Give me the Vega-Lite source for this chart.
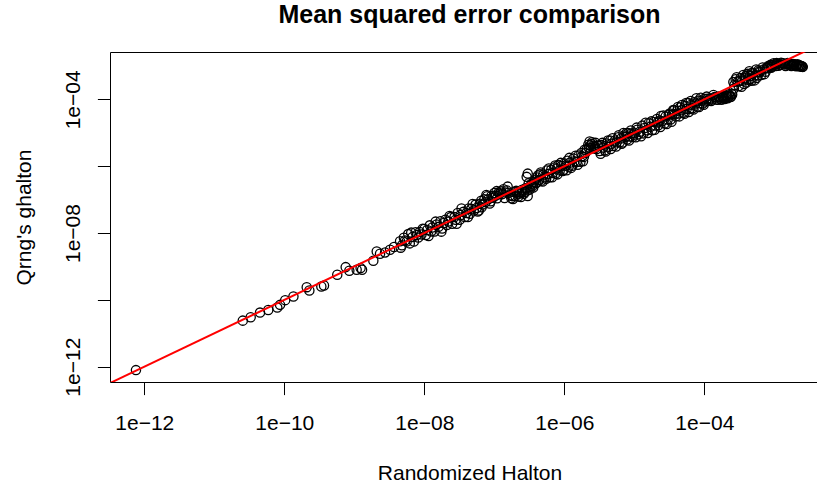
{
 "$schema": "https://vega.github.io/schema/vega-lite/v6.json",
 "width": 707,
 "height": 330,
 "autosize": {"type": "none"},
 "padding": {"left": 110, "top": 52, "right": 0, "bottom": 102},
 "background": "white",
 "config": {"view": {"stroke": null}, "axis": {"grid": false}, "font": "Liberation Sans"},
 "title": {"text": "Mean squared error comparison", "font": "Liberation Sans", "fontSize": 25, "fontWeight": "bold", "color": "black", "anchor": "middle", "frame": "group", "baseline": "alphabetic", "offset": 4, "dx": 6},
 "layer": [
  {
   "data": {"values": [
    {"halton":7.6e-13,"ghalton":7.9e-13},
    {"halton":2.55e-11,"ghalton":2.39e-11},
    {"halton":3.31e-11,"ghalton":3.03e-11},
    {"halton":4.5e-11,"ghalton":4.16e-11},
    {"halton":5.9e-11,"ghalton":5.0e-11},
    {"halton":7.94e-11,"ghalton":5.87e-11},
    {"halton":8.69e-11,"ghalton":7.08e-11},
    {"halton":1.03e-10,"ghalton":9.8e-11},
    {"halton":1.35e-10,"ghalton":1.26e-10},
    {"halton":2.09e-10,"ghalton":2.4e-10},
    {"halton":2.28e-10,"ghalton":1.9e-10},
    {"halton":3.38e-10,"ghalton":2.51e-10},
    {"halton":3.69e-10,"ghalton":2.69e-10},
    {"halton":5.71e-10,"ghalton":5.62e-10},
    {"halton":7.53e-10,"ghalton":9.55e-10},
    {"halton":8.49e-10,"ghalton":7.41e-10},
    {"halton":1.08e-9,"ghalton":7.94e-10},
    {"halton":1.23e-9,"ghalton":8.91e-10},
    {"halton":1.29e-9,"ghalton":7.94e-10},
    {"halton":1.87e-9,"ghalton":1.48e-9},
    {"halton":2.09e-9,"ghalton":2.82e-9},
    {"halton":2.33e-9,"ghalton":2.4e-9},
    {"halton":2.75e-9,"ghalton":2.63e-9},
    {"halton":3.24e-9,"ghalton":3.16e-9},
    {"halton":3.69e-9,"ghalton":3.8e-9},
    {"halton":4.5e-9,"ghalton":5.7e-9},
    {"halton":4.6e-9,"ghalton":3.65e-9},
    {"halton":4.8e-9,"ghalton":4.3e-9},
    {"halton":5.1e-9,"ghalton":7.2e-9},
    {"halton":5.3e-9,"ghalton":5.95e-9},
    {"halton":5.6e-9,"ghalton":5.6e-9},
    {"halton":5.9e-9,"ghalton":9.3e-9},
    {"halton":6.2e-9,"ghalton":4.9e-9},
    {"halton":6.5e-9,"ghalton":1.03e-8},
    {"halton":6.8e-9,"ghalton":7.6e-9},
    {"halton":7.1e-9,"ghalton":5.6e-9},
    {"halton":7.5e-9,"ghalton":1.06e-8},
    {"halton":7.8e-9,"ghalton":8.75e-9},
    {"halton":8.2e-9,"ghalton":7.3e-9},
    {"halton":8.6e-9,"ghalton":1.08e-8},
    {"halton":9.1e-9,"ghalton":9.1e-9},
    {"halton":9.5e-9,"ghalton":1.34e-8},
    {"halton":1.0e-8,"ghalton":1.32e-8},
    {"halton":1.05e-8,"ghalton":8.7e-9},
    {"halton":1.1e-8,"ghalton":1.23e-8},
    {"halton":1.15e-8,"ghalton":8.2e-9},
    {"halton":1.2e-8,"ghalton":1.7e-8},
    {"halton":1.25e-8,"ghalton":1.11e-8},
    {"halton":1.3e-8,"ghalton":1.46e-8},
    {"halton":1.4e-8,"ghalton":1.11e-8},
    {"halton":1.45e-8,"ghalton":2.2e-8},
    {"halton":1.5e-8,"ghalton":1.8e-8},
    {"halton":1.6e-8,"ghalton":1.53e-8},
    {"halton":1.7e-8,"ghalton":2.24e-8},
    {"halton":1.75e-8,"ghalton":1.1e-8},
    {"halton":1.8e-8,"ghalton":1.36e-8},
    {"halton":1.9e-8,"ghalton":2.0e-8},
    {"halton":2.0e-8,"ghalton":2.5e-8},
    {"halton":2.1e-8,"ghalton":1.75e-8},
    {"halton":2.2e-8,"ghalton":2.2e-8},
    {"halton":2.3e-8,"ghalton":3.25e-8},
    {"halton":2.4e-8,"ghalton":3.0e-8},
    {"halton":2.5e-8,"ghalton":1.9e-8},
    {"halton":2.7e-8,"ghalton":3.0e-8},
    {"halton":2.8e-8,"ghalton":2.5e-8},
    {"halton":2.9e-8,"ghalton":1.9e-8},
    {"halton":3.0e-8,"ghalton":4.0e-8},
    {"halton":3.2e-8,"ghalton":2.5e-8},
    {"halton":3.3e-8,"ghalton":3.45e-8},
    {"halton":3.4e-8,"ghalton":5.4e-8},
    {"halton":3.6e-8,"ghalton":4.3e-8},
    {"halton":3.8e-8,"ghalton":3.0e-8},
    {"halton":4.0e-8,"ghalton":4.0e-8},
    {"halton":4.2e-8,"ghalton":3.0e-8},
    {"halton":4.3e-8,"ghalton":5.4e-8},
    {"halton":4.5e-8,"ghalton":3.75e-8},
    {"halton":4.7e-8,"ghalton":5.3e-8},
    {"halton":4.9e-8,"ghalton":7.4e-8},
    {"halton":5.1e-8,"ghalton":4.75e-8},
    {"halton":5.4e-8,"ghalton":7.1e-8},
    {"halton":5.6e-8,"ghalton":5.6e-8},
    {"halton":5.8e-8,"ghalton":4.4e-8},
    {"halton":6.0e-8,"ghalton":4.75e-8},
    {"halton":6.2e-8,"ghalton":7.5e-8},
    {"halton":6.5e-8,"ghalton":9.2e-8},
    {"halton":6.6e-8,"ghalton":5.9e-8},
    {"halton":6.8e-8,"ghalton":7.1e-8},
    {"halton":7.2e-8,"ghalton":1.02e-7},
    {"halton":7.5e-8,"ghalton":8.4e-8},
    {"halton":7.7e-8,"ghalton":1.37e-7},
    {"halton":7.9e-8,"ghalton":1.26e-7},
    {"halton":8.2e-8,"ghalton":1.03e-7},
    {"halton":8.6e-8,"ghalton":7.7e-8},
    {"halton":8.9e-8,"ghalton":8.9e-8},
    {"halton":9.1e-8,"ghalton":1.28e-7},
    {"halton":9.5e-8,"ghalton":1.14e-7},
    {"halton":9.8e-8,"ghalton":1.29e-7},
    {"halton":1.0e-7,"ghalton":1.58e-7},
    {"halton":1.05e-7,"ghalton":1.32e-7},
    {"halton":1.08e-7,"ghalton":1.8e-7},
    {"halton":1.1e-7,"ghalton":1.1e-7},
    {"halton":1.15e-7,"ghalton":1.62e-7},
    {"halton":1.2e-7,"ghalton":1.51e-7},
    {"halton":1.25e-7,"ghalton":1.77e-7},
    {"halton":1.3e-7,"ghalton":1.46e-7},
    {"halton":1.35e-7,"ghalton":2.05e-7},
    {"halton":1.4e-7,"ghalton":1.11e-7},
    {"halton":1.45e-7,"ghalton":1.63e-7},
    {"halton":1.5e-7,"ghalton":1.89e-7},
    {"halton":1.55e-7,"ghalton":2.45e-7},
    {"halton":1.6e-7,"ghalton":1.6e-7},
    {"halton":1.7e-7,"ghalton":1.35e-7},
    {"halton":1.75e-7,"ghalton":1.1e-7},
    {"halton":1.8e-7,"ghalton":1.27e-7},
    {"halton":1.85e-7,"ghalton":1.04e-7},
    {"halton":1.9e-7,"ghalton":1.7e-7},
    {"halton":2.0e-7,"ghalton":1.26e-7},
    {"halton":2.05e-7,"ghalton":1.83e-7},
    {"halton":2.1e-7,"ghalton":1.66e-7},
    {"halton":2.2e-7,"ghalton":1.24e-7},
    {"halton":2.25e-7,"ghalton":1.5e-7},
    {"halton":2.3e-7,"ghalton":1.63e-7},
    {"halton":2.4e-7,"ghalton":1.2e-7},
    {"halton":2.45e-7,"ghalton":1.73e-7},
    {"halton":2.5e-7,"ghalton":1.98e-7},
    {"halton":2.65e-7,"ghalton":1.5e-7},
    {"halton":2.7e-7,"ghalton":1.7e-7},
    {"halton":2.8e-7,"ghalton":2.2e-7},
    {"halton":2.9e-7,"ghalton":4.8e-7},
    {"halton":2.9e-7,"ghalton":2.2e-7},
    {"halton":3.0e-7,"ghalton":6.0e-7},
    {"halton":3.0e-7,"ghalton":1.28e-7},
    {"halton":3.0e-7,"ghalton":1.9e-7},
    {"halton":3.1e-7,"ghalton":3.1e-7},
    {"halton":3.2e-7,"ghalton":2.0e-7},
    {"halton":3.3e-7,"ghalton":2.6e-7},
    {"halton":3.4e-7,"ghalton":3.0e-7},
    {"halton":3.5e-7,"ghalton":2.5e-7},
    {"halton":3.6e-7,"ghalton":2.3e-7},
    {"halton":3.7e-7,"ghalton":3.3e-7},
    {"halton":3.8e-7,"ghalton":3.8e-7},
    {"halton":3.9e-7,"ghalton":3.1e-7},
    {"halton":4.0e-7,"ghalton":3.2e-7},
    {"halton":4.1e-7,"ghalton":4.6e-7},
    {"halton":4.2e-7,"ghalton":5.3e-7},
    {"halton":4.3e-7,"ghalton":3.8e-7},
    {"halton":4.4e-7,"ghalton":3.9e-7},
    {"halton":4.5e-7,"ghalton":5.7e-7},
    {"halton":4.6e-7,"ghalton":6.5e-7},
    {"halton":4.7e-7,"ghalton":3.7e-7},
    {"halton":4.9e-7,"ghalton":3.5e-7},
    {"halton":5.0e-7,"ghalton":5.6e-7},
    {"halton":5.3e-7,"ghalton":4.7e-7},
    {"halton":5.5e-7,"ghalton":4.2e-7},
    {"halton":5.6e-7,"ghalton":7.4e-7},
    {"halton":5.9e-7,"ghalton":5.9e-7},
    {"halton":6.0e-7,"ghalton":8.5e-7},
    {"halton":6.2e-7,"ghalton":4.7e-7},
    {"halton":6.5e-7,"ghalton":7.8e-7},
    {"halton":6.7e-7,"ghalton":4.7e-7},
    {"halton":6.8e-7,"ghalton":6.3e-7},
    {"halton":7.2e-7,"ghalton":9.1e-7},
    {"halton":7.4e-7,"ghalton":1.05e-6},
    {"halton":7.5e-7,"ghalton":6.0e-7},
    {"halton":7.9e-7,"ghalton":8.5e-7},
    {"halton":8.0e-7,"ghalton":5.7e-7},
    {"halton":8.2e-7,"ghalton":1.08e-6},
    {"halton":8.6e-7,"ghalton":7.5e-7},
    {"halton":8.9e-7,"ghalton":1.26e-6},
    {"halton":9.1e-7,"ghalton":1.02e-6},
    {"halton":9.5e-7,"ghalton":7.2e-7},
    {"halton":9.8e-7,"ghalton":7.8e-7},
    {"halton":1.0e-6,"ghalton":1.2e-6},
    {"halton":1.05e-6,"ghalton":1.05e-6},
    {"halton":1.08e-6,"ghalton":7.6e-7},
    {"halton":1.1e-6,"ghalton":1.45e-6},
    {"halton":1.15e-6,"ghalton":9.6e-7},
    {"halton":1.18e-6,"ghalton":1.78e-6},
    {"halton":1.2e-6,"ghalton":1.28e-6},
    {"halton":1.25e-6,"ghalton":8.9e-7},
    {"halton":1.3e-6,"ghalton":1.03e-6},
    {"halton":1.35e-6,"ghalton":1.7e-6},
    {"halton":1.4e-6,"ghalton":1.4e-6},
    {"halton":1.45e-6,"ghalton":2.05e-6},
    {"halton":1.5e-6,"ghalton":1.34e-6},
    {"halton":1.55e-6,"ghalton":1.1e-6},
    {"halton":1.6e-6,"ghalton":2.1e-6},
    {"halton":1.7e-6,"ghalton":1.35e-6},
    {"halton":1.75e-6,"ghalton":2.5e-6},
    {"halton":1.8e-6,"ghalton":2.0e-6},
    {"halton":1.85e-6,"ghalton":1.4e-6},
    {"halton":1.9e-6,"ghalton":1.9e-6},
    {"halton":1.95e-6,"ghalton":3.1e-6},
    {"halton":2.0e-6,"ghalton":2.5e-6},
    {"halton":2.1e-6,"ghalton":3.3e-6},
    {"halton":2.2e-6,"ghalton":4.4e-6},
    {"halton":2.25e-6,"ghalton":3.55e-6},
    {"halton":2.3e-6,"ghalton":5.5e-6},
    {"halton":2.35e-6,"ghalton":4.2e-6},
    {"halton":2.4e-6,"ghalton":3.4e-6},
    {"halton":2.45e-6,"ghalton":4.6e-6},
    {"halton":2.5e-6,"ghalton":5.2e-6},
    {"halton":2.6e-6,"ghalton":4.1e-6},
    {"halton":2.7e-6,"ghalton":3.4e-6},
    {"halton":2.75e-6,"ghalton":3.9e-6},
    {"halton":2.8e-6,"ghalton":5.0e-6},
    {"halton":2.9e-6,"ghalton":3.25e-6},
    {"halton":3.0e-6,"ghalton":4.2e-6},
    {"halton":3.1e-6,"ghalton":4.1e-6},
    {"halton":3.2e-6,"ghalton":2.85e-6},
    {"halton":3.3e-6,"ghalton":2.35e-6},
    {"halton":3.4e-6,"ghalton":4.3e-6},
    {"halton":3.5e-6,"ghalton":5.0e-6},
    {"halton":3.6e-6,"ghalton":3.6e-6},
    {"halton":3.8e-6,"ghalton":3.0e-6},
    {"halton":3.9e-6,"ghalton":2.75e-6},
    {"halton":4.0e-6,"ghalton":4.8e-6},
    {"halton":4.2e-6,"ghalton":5.9e-6},
    {"halton":4.3e-6,"ghalton":3.8e-6},
    {"halton":4.5e-6,"ghalton":5.9e-6},
    {"halton":4.6e-6,"ghalton":3.25e-6},
    {"halton":4.7e-6,"ghalton":4.7e-6},
    {"halton":4.9e-6,"ghalton":6.9e-6},
    {"halton":5.0e-6,"ghalton":4.0e-6},
    {"halton":5.3e-6,"ghalton":5.9e-6},
    {"halton":5.5e-6,"ghalton":3.9e-6},
    {"halton":5.6e-6,"ghalton":5.2e-6},
    {"halton":5.9e-6,"ghalton":7.4e-6},
    {"halton":6.0e-6,"ghalton":8.5e-6},
    {"halton":6.2e-6,"ghalton":5.2e-6},
    {"halton":6.5e-6,"ghalton":6.8e-6},
    {"halton":6.6e-6,"ghalton":4.7e-6},
    {"halton":6.8e-6,"ghalton":5.1e-6},
    {"halton":7.0e-6,"ghalton":9.9e-6},
    {"halton":7.2e-6,"ghalton":8.3e-6},
    {"halton":7.5e-6,"ghalton":7.5e-6},
    {"halton":7.7e-6,"ghalton":9.7e-6},
    {"halton":7.9e-6,"ghalton":6.3e-6},
    {"halton":8.2e-6,"ghalton":9.9e-6},
    {"halton":8.4e-6,"ghalton":5.9e-6},
    {"halton":8.6e-6,"ghalton":7.7e-6},
    {"halton":8.9e-6,"ghalton":1.17e-5},
    {"halton":9.1e-6,"ghalton":9.5e-6},
    {"halton":9.5e-6,"ghalton":7.5e-6},
    {"halton":9.8e-6,"ghalton":8.7e-6},
    {"halton":1.0e-5,"ghalton":1.0e-5},
    {"halton":1.05e-5,"ghalton":7.4e-6},
    {"halton":1.08e-5,"ghalton":1.43e-5},
    {"halton":1.1e-5,"ghalton":1.23e-5},
    {"halton":1.15e-5,"ghalton":9.1e-6},
    {"halton":1.2e-5,"ghalton":1.07e-5},
    {"halton":1.25e-5,"ghalton":7.9e-6},
    {"halton":1.3e-5,"ghalton":1.64e-5},
    {"halton":1.35e-5,"ghalton":9.6e-6},
    {"halton":1.4e-5,"ghalton":1.4e-5},
    {"halton":1.45e-5,"ghalton":2.0e-5},
    {"halton":1.5e-5,"ghalton":1.19e-5},
    {"halton":1.55e-5,"ghalton":9.8e-6},
    {"halton":1.6e-5,"ghalton":1.92e-5},
    {"halton":1.7e-5,"ghalton":1.52e-5},
    {"halton":1.75e-5,"ghalton":2.2e-5},
    {"halton":1.8e-5,"ghalton":1.19e-5},
    {"halton":1.9e-5,"ghalton":2.1e-5},
    {"halton":1.95e-5,"ghalton":1.23e-5},
    {"halton":2.0e-5,"ghalton":1.66e-5},
    {"halton":2.1e-5,"ghalton":2.6e-5},
    {"halton":2.15e-5,"ghalton":2.05e-5},
    {"halton":2.2e-5,"ghalton":1.67e-5},
    {"halton":2.3e-5,"ghalton":2.3e-5},
    {"halton":2.35e-5,"ghalton":1.48e-5},
    {"halton":2.4e-5,"ghalton":3.2e-5},
    {"halton":2.5e-5,"ghalton":2.2e-5},
    {"halton":2.6e-5,"ghalton":3.3e-5},
    {"halton":2.7e-5,"ghalton":1.9e-5},
    {"halton":2.8e-5,"ghalton":3.1e-5},
    {"halton":2.9e-5,"ghalton":1.83e-5},
    {"halton":3.0e-5,"ghalton":2.5e-5},
    {"halton":3.1e-5,"ghalton":3.5e-5},
    {"halton":3.2e-5,"ghalton":3.8e-5},
    {"halton":3.3e-5,"ghalton":2.5e-5},
    {"halton":3.4e-5,"ghalton":2.15e-5},
    {"halton":3.5e-5,"ghalton":3.5e-5},
    {"halton":3.6e-5,"ghalton":4.8e-5},
    {"halton":3.7e-5,"ghalton":4.7e-5},
    {"halton":3.8e-5,"ghalton":3.6e-5},
    {"halton":3.9e-5,"ghalton":3.1e-5},
    {"halton":4.1e-5,"ghalton":4.6e-5},
    {"halton":4.2e-5,"ghalton":5.9e-5},
    {"halton":4.3e-5,"ghalton":3.8e-5},
    {"halton":4.4e-5,"ghalton":3.1e-5},
    {"halton":4.5e-5,"ghalton":5.7e-5},
    {"halton":4.7e-5,"ghalton":4.7e-5},
    {"halton":4.8e-5,"ghalton":6.8e-5},
    {"halton":5.0e-5,"ghalton":4.0e-5},
    {"halton":5.2e-5,"ghalton":3.7e-5},
    {"halton":5.3e-5,"ghalton":6.4e-5},
    {"halton":5.5e-5,"ghalton":7.8e-5},
    {"halton":5.6e-5,"ghalton":5.2e-5},
    {"halton":5.9e-5,"ghalton":7.8e-5},
    {"halton":6.0e-5,"ghalton":4.2e-5},
    {"halton":6.2e-5,"ghalton":5.2e-5},
    {"halton":6.4e-5,"ghalton":9.0e-5},
    {"halton":6.5e-5,"ghalton":6.9e-5},
    {"halton":6.8e-5,"ghalton":5.4e-5},
    {"halton":7.0e-5,"ghalton":5.0e-5},
    {"halton":7.2e-5,"ghalton":8.2e-5},
    {"halton":7.5e-5,"ghalton":7.5e-5},
    {"halton":7.7e-5,"ghalton":1.09e-4},
    {"halton":7.9e-5,"ghalton":6.0e-5},
    {"halton":8.2e-5,"ghalton":9.2e-5},
    {"halton":8.4e-5,"ghalton":5.9e-5},
    {"halton":8.6e-5,"ghalton":7.7e-5},
    {"halton":8.9e-5,"ghalton":1.12e-4},
    {"halton":9.1e-5,"ghalton":9.1e-5},
    {"halton":9.5e-5,"ghalton":7.5e-5},
    {"halton":9.8e-5,"ghalton":6.9e-5},
    {"halton":1.0e-4,"ghalton":1.05e-4},
    {"halton":1.05e-4,"ghalton":8.7e-5},
    {"halton":1.08e-4,"ghalton":1.21e-4},
    {"halton":1.1e-4,"ghalton":1.05e-4},
    {"halton":1.15e-4,"ghalton":9.1e-5},
    {"halton":1.2e-4,"ghalton":1.07e-4},
    {"halton":1.25e-4,"ghalton":8.9e-5},
    {"halton":1.3e-4,"ghalton":9.9e-5},
    {"halton":1.35e-4,"ghalton":1.35e-4},
    {"halton":1.4e-4,"ghalton":1.17e-4},
    {"halton":1.45e-4,"ghalton":1.15e-4},
    {"halton":1.5e-4,"ghalton":9.9e-5},
    {"halton":1.55e-4,"ghalton":9.8e-5},
    {"halton":1.6e-4,"ghalton":1.21e-4},
    {"halton":1.65e-4,"ghalton":1.17e-4},
    {"halton":1.7e-4,"ghalton":1.07e-4},
    {"halton":1.75e-4,"ghalton":9.8e-5},
    {"halton":1.8e-4,"ghalton":1.27e-4},
    {"halton":1.85e-4,"ghalton":1.17e-4},
    {"halton":1.9e-4,"ghalton":1.14e-4},
    {"halton":1.95e-4,"ghalton":1.02e-4},
    {"halton":2.0e-4,"ghalton":1.12e-4},
    {"halton":2.05e-4,"ghalton":1.3e-4},
    {"halton":2.1e-4,"ghalton":1.26e-4},
    {"halton":2.15e-4,"ghalton":1.08e-4},
    {"halton":2.2e-4,"ghalton":1.16e-4},
    {"halton":2.25e-4,"ghalton":1.42e-4},
    {"halton":2.3e-4,"ghalton":1.29e-4},
    {"halton":2.35e-4,"ghalton":1.18e-4},
    {"halton":2.4e-4,"ghalton":1.2e-4},
    {"halton":2.45e-4,"ghalton":1.47e-4},
    {"halton":2.5e-4,"ghalton":1.4e-4},
    {"halton":2.6e-4,"ghalton":3.3e-4},
    {"halton":2.65e-4,"ghalton":2.1e-4},
    {"halton":2.7e-4,"ghalton":2.7e-4},
    {"halton":2.8e-4,"ghalton":4.0e-4},
    {"halton":2.9e-4,"ghalton":4.6e-4},
    {"halton":3.0e-4,"ghalton":3.4e-4},
    {"halton":3.1e-4,"ghalton":2.5e-4},
    {"halton":3.2e-4,"ghalton":3.6e-4},
    {"halton":3.3e-4,"ghalton":4.4e-4},
    {"halton":3.4e-4,"ghalton":2.4e-4},
    {"halton":3.5e-4,"ghalton":3.6e-4},
    {"halton":3.6e-4,"ghalton":5.4e-4},
    {"halton":3.7e-4,"ghalton":2.9e-4},
    {"halton":3.8e-4,"ghalton":4.3e-4},
    {"halton":3.9e-4,"ghalton":4.9e-4},
    {"halton":4.0e-4,"ghalton":3.2e-4},
    {"halton":4.1e-4,"ghalton":5.8e-4},
    {"halton":4.2e-4,"ghalton":5.3e-4},
    {"halton":4.3e-4,"ghalton":3.8e-4},
    {"halton":4.4e-4,"ghalton":7.0e-4},
    {"halton":4.5e-4,"ghalton":5.0e-4},
    {"halton":4.6e-4,"ghalton":4.1e-4},
    {"halton":4.7e-4,"ghalton":3.6e-4},
    {"halton":4.8e-4,"ghalton":6.3e-4},
    {"halton":5.0e-4,"ghalton":6.0e-4},
    {"halton":5.2e-4,"ghalton":3.7e-4},
    {"halton":5.3e-4,"ghalton":5.3e-4},
    {"halton":5.5e-4,"ghalton":7.8e-4},
    {"halton":5.6e-4,"ghalton":4.4e-4},
    {"halton":5.8e-4,"ghalton":5.2e-4},
    {"halton":5.9e-4,"ghalton":7.4e-4},
    {"halton":6.0e-4,"ghalton":6.7e-4},
    {"halton":6.2e-4,"ghalton":6.5e-4},
    {"halton":6.5e-4,"ghalton":5.4e-4},
    {"halton":6.8e-4,"ghalton":9.0e-4},
    {"halton":7.0e-4,"ghalton":7.9e-4},
    {"halton":7.2e-4,"ghalton":5.7e-4},
    {"halton":7.5e-4,"ghalton":6.7e-4},
    {"halton":7.8e-4,"ghalton":9.0e-4},
    {"halton":8.0e-4,"ghalton":8.5e-4},
    {"halton":8.2e-4,"ghalton":1.0e-3},
    {"halton":8.5e-4,"ghalton":9.5e-4},
    {"halton":8.8e-4,"ghalton":1.08e-3},
    {"halton":9.0e-4,"ghalton":8.8e-4},
    {"halton":9.2e-4,"ghalton":9.4e-4},
    {"halton":9.5e-4,"ghalton":1.05e-3},
    {"halton":9.8e-4,"ghalton":1.2e-3},
    {"halton":1.0e-3,"ghalton":1.1e-3},
    {"halton":1.05e-3,"ghalton":1.0e-3},
    {"halton":1.08e-3,"ghalton":1.22e-3},
    {"halton":1.1e-3,"ghalton":1.15e-3},
    {"halton":1.15e-3,"ghalton":1.02e-3},
    {"halton":1.2e-3,"ghalton":1.08e-3},
    {"halton":1.25e-3,"ghalton":1.25e-3},
    {"halton":1.3e-3,"ghalton":1.2e-3},
    {"halton":1.35e-3,"ghalton":1.18e-3},
    {"halton":1.4e-3,"ghalton":1.1e-3},
    {"halton":1.45e-3,"ghalton":1.0e-3},
    {"halton":1.5e-3,"ghalton":1.15e-3},
    {"halton":1.55e-3,"ghalton":1.22e-3},
    {"halton":1.6e-3,"ghalton":1.08e-3},
    {"halton":1.65e-3,"ghalton":1.18e-3},
    {"halton":1.7e-3,"ghalton":1.12e-3},
    {"halton":1.75e-3,"ghalton":1.0e-3},
    {"halton":1.8e-3,"ghalton":1.05e-3},
    {"halton":1.85e-3,"ghalton":1.15e-3},
    {"halton":1.9e-3,"ghalton":1.1e-3},
    {"halton":1.95e-3,"ghalton":1.12e-3},
    {"halton":2.0e-3,"ghalton":1.02e-3},
    {"halton":2.05e-3,"ghalton":9.8e-4},
    {"halton":2.1e-3,"ghalton":1.06e-3},
    {"halton":2.15e-3,"ghalton":1.12e-3},
    {"halton":2.2e-3,"ghalton":1.0e-3},
    {"halton":2.25e-3,"ghalton":1.05e-3},
    {"halton":2.3e-3,"ghalton":9.8e-4},
    {"halton":2.35e-3,"ghalton":1.02e-3},
    {"halton":2.4e-3,"ghalton":9.6e-4},
    {"halton":2.45e-3,"ghalton":1.0e-3},
    {"halton":2.5e-3,"ghalton":9.5e-4},
    {"halton":2.55e-3,"ghalton":9.4e-4}
   ]},
   "mark": {"type": "point", "shape": "circle", "filled": false, "stroke": "black", "strokeWidth": 1.3, "size": 85, "opacity": 1},
   "encoding": {
    "x": {"field": "halton", "type": "quantitative",
     "scale": {"type": "log", "domain": [3.236e-13, 4.07e-3], "nice": false},
     "axis": {"values": [1e-12, 1e-10, 1e-8, 1e-6, 1e-4], "title": "Randomized Halton",
      "labelExpr": "'1e−' + format(round(-log(datum.value)/LN10), '02d')",
      "labelFont": "Liberation Sans", "labelFontSize": 21, "labelColor": "black", "labelBaseline": "alphabetic", "labelPadding": 34.9,
      "labelOverlap": false, "labelFlush": false, "labelBound": false,
      "tickSize": 12.6, "tickColor": "black", "tickWidth": 1, "domainColor": "black", "domainWidth": 1,
      "titleFont": "Liberation Sans", "titleFontSize": 21, "titleFontWeight": "normal", "titleColor": "black",
      "titleX": 359.5, "titleY": 97, "titleBaseline": "alphabetic", "titleAlign": "center"}},
    "y": {"field": "ghalton", "type": "quantitative",
     "scale": {"type": "log", "domain": [3.48e-13, 2.62e-3], "nice": false},
     "axis": {"values": [1e-12, 1e-10, 1e-8, 1e-6, 1e-4], "title": "Qrng's ghalton",
      "labelExpr": "(round(-log(datum.value)/LN10) % 4 == 0) ? '1e−' + format(round(-log(datum.value)/LN10), '02d') : ''",
      "labelFont": "Liberation Sans", "labelFontSize": 21, "labelColor": "black", "labelAngle": -90, "labelAlign": "center", "labelBaseline": "alphabetic", "labelPadding": 17.9,
      "labelOverlap": false, "labelFlush": false, "labelBound": false,
      "tickSize": 12.6, "tickColor": "black", "tickWidth": 1, "domainColor": "black", "domainWidth": 1,
      "titleFont": "Liberation Sans", "titleFontSize": 21, "titleFontWeight": "normal", "titleColor": "black",
      "titleAngle": -90, "titleX": -80, "titleY": 165, "titleBaseline": "alphabetic", "titleAlign": "center"}}
   }
  },
  {
   "data": {"values": [{"halton": 1e-13, "ghalton": 1e-13}, {"halton": 1e-2, "ghalton": 1e-2}]},
   "mark": {"type": "line", "color": "#ff0000", "strokeWidth": 2, "clip": true},
   "encoding": {
    "x": {"field": "halton", "type": "quantitative", "axis": {"orient": "top", "ticks": false, "labels": false, "domain": true, "domainColor": "black", "domainWidth": 1, "title": null, "grid": false}},
    "y": {"field": "ghalton", "type": "quantitative", "axis": null}
   }
  }
 ],
 "resolve": {"axis": {"x": "independent", "y": "independent"}}
}
